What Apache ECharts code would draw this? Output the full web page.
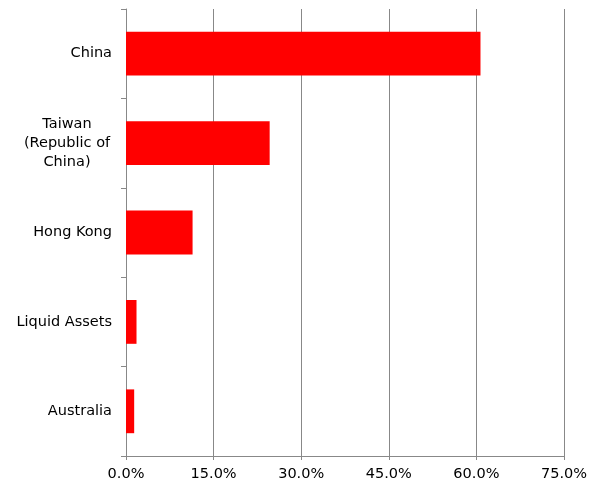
<!DOCTYPE html>
<html>
<head>
<meta charset="utf-8">
<script src="https://cdn.jsdelivr.net/npm/echarts@6/dist/echarts.min.js"></script>
<style>html,body{margin:0;padding:0;background:#fff}#c{width:599px;height:487px}</style>
</head>
<body>
<div id="c"></div>
<script>
const categories = ["China", "Taiwan\n(Republic of\nChina)", "Hong Kong", "Liquid Assets", "Australia"];
const values = [60.7, 24.6, 11.4, 1.8, 1.4];
const xTicks = [0, 15, 30, 45, 60, 75];

const FS = 14.5;
const chart = echarts.init(document.getElementById('c'));
chart.setOption({
  animation: false,
  backgroundColor: '#fff',
  grid: { left: 126, right: 35, top: 9, bottom: 31, containLabel: false },
  xAxis: {
    type: 'value',
    min: xTicks[0], max: xTicks[xTicks.length - 1], interval: 15,
    axisLine: { show: true, lineStyle: { color: '#888', width: 1 } },
    axisTick: { show: true, length: 4, lineStyle: { color: '#888' } },
    splitLine: { show: true, lineStyle: { color: '#888', width: 1 } },
    axisLabel: {
      margin: 11, color: '#000', fontSize: FS, fontFamily: 'DejaVu Sans',
      formatter: v => v.toFixed(1) + '%'
    }
  },
  yAxis: {
    type: 'category', data: categories, inverse: true,
    axisLine: { show: true, lineStyle: { color: '#888', width: 1 } },
    axisTick: { show: true, length: 5, lineStyle: { color: '#888' } },
    axisLabel: {
      margin: 14, color: '#000', fontSize: FS, fontFamily: 'DejaVu Sans',
      lineHeight: 19,
      formatter: v => v.indexOf('\n') >= 0 ? v.split('\n').map(s => '{c|' + s + '}').join('\n') : v,
      rich: { c: { width: 90, align: 'center', fontSize: FS, fontFamily: 'DejaVu Sans', color: '#000', lineHeight: 19 } }
    }
  },
  series: [{
    type: 'bar', data: values, barCategoryGap: '51%',
    itemStyle: { color: '#ff0000' }
  }]
});
</script>
</body>
</html>
